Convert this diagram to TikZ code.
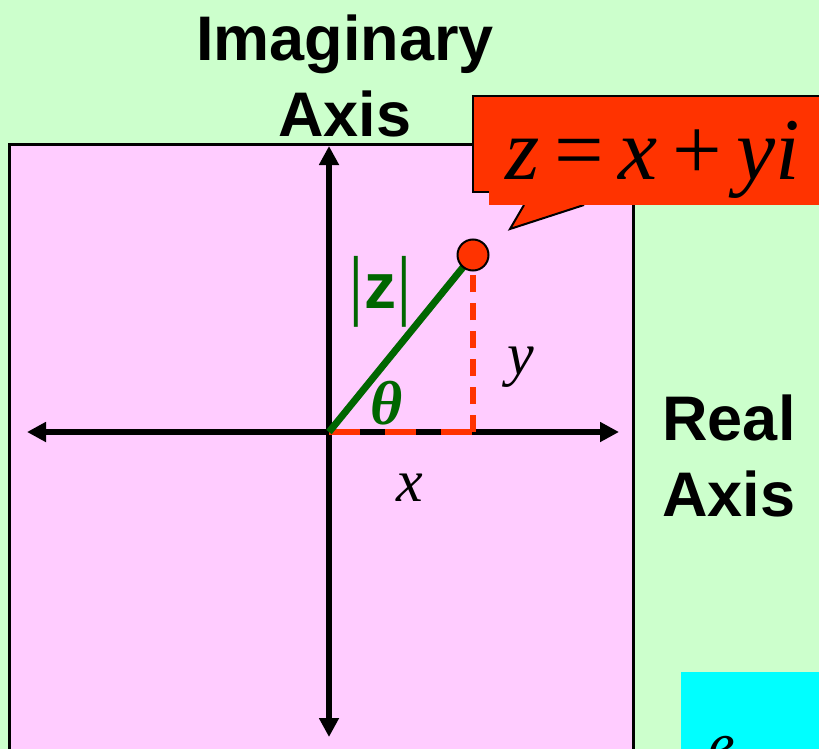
\documentclass[tikz,border=0pt]{standalone}
\usepackage{fontspec}
\setmainfont{Liberation Serif}
\setsansfont{Liberation Sans}
\usetikzlibrary{arrows.meta, positioning, calc}
\definecolor{bggreen}{HTML}{CCFFCC}
\definecolor{planepink}{HTML}{FFCCFF}
\definecolor{calloutred}{HTML}{FF3300}
\definecolor{modgreen}{HTML}{006600}
\definecolor{boxcyan}{HTML}{00FFFF}
\begin{document}
\begin{tikzpicture}[
        x=1pt, y=-1pt,
        axis/.style={line width=6pt, -{Triangle[length=19pt, width=19pt]}},
        axislabel/.style={font=\sffamily\bfseries\fontsize{63}{76}\selectfont, align=center, inner sep=0pt},
        mathlabel/.style={font=\itshape\fontsize{60}{60}\selectfont, inner sep=0pt},
        legdash/.style={calloutred, line width=6pt, dash pattern=on 31pt off 25pt},
        legdashv/.style={calloutred, line width=6pt, dash pattern=on 17pt off 11pt},
    ]
    \useasboundingbox (0,0) rectangle (819,749);
    \clip (0,0) rectangle (819,749);
    \fill[bggreen] (0,0) rectangle (819,749);
    % complex plane
    \draw[planepink, fill=planepink] (9,145) rectangle (633,760);
    \draw[line width=3pt] (9,760) -- (9,145) -- (633,145) -- (633,760);
    \fill[boxcyan] (681,672) rectangle (830,760);
    \node[font=\itshape\fontsize{60}{60}\selectfont, anchor=north, inner sep=0pt] (hidden) at (722,736) {e};
    % axes
    \coordinate (O) at (329,432);
    \coordinate (P) at (473,255);
    \coordinate (Px) at (473,432);
    \draw[axis] (O) -- (329,146);
    \draw[axis] (O) -- (329,737);
    \draw[axis] (O) -- (27,432);
    \draw[axis] (O) -- (619,432);
    % components
    \draw[legdash] (O) -- (Px);
    \draw[legdashv] (Px) -- (P);
    \draw[modgreen, line width=7pt] (O) -- (P);
    \node[circle, draw, line width=2pt, fill=calloutred, minimum size=31pt, inner sep=0pt] (pt) at (P) {};
    % callout
    \fill[calloutred] (473,96) rectangle (830,192);
    \draw[line width=2.5pt] (830,96) -- (473,96) -- (473,192) -- (489,192);
    \fill[calloutred] (489,104) rectangle (830,205);
    \draw[line width=2pt, fill=calloutred] (524,205) -- (510,229) -- (584,205);
    \fill[calloutred] (522,199) rectangle (590,205);
    \node[font=\fontsize{88}{88}\selectfont, inner sep=0pt] (eq) at (653,160) {\textit{z}\,=\,\textit{x}\,+\,\textit{yi}};
    % labels
    \node[axislabel] (imag) at (345,76) {Imaginary\\Axis};
    \node[axislabel] (real) at (729,456) {Real\\Axis};
    \node[modgreen, inner sep=0pt, font=\fontsize{78}{80}\selectfont] (modz) at (380,292) {|\raisebox{2pt}{\fontsize{64}{64}\selectfont\textsf{\bfseries z}}|};
    \node[modgreen, font=\bfseries\itshape\fontsize{62}{62}\selectfont, inner sep=0pt] (theta) at (387,403) {θ};
    \node[mathlabel] (ylab) at (521,367) {y};
    \node[mathlabel] (xlab) at (410,488) {x};
\end{tikzpicture}
\end{document}
